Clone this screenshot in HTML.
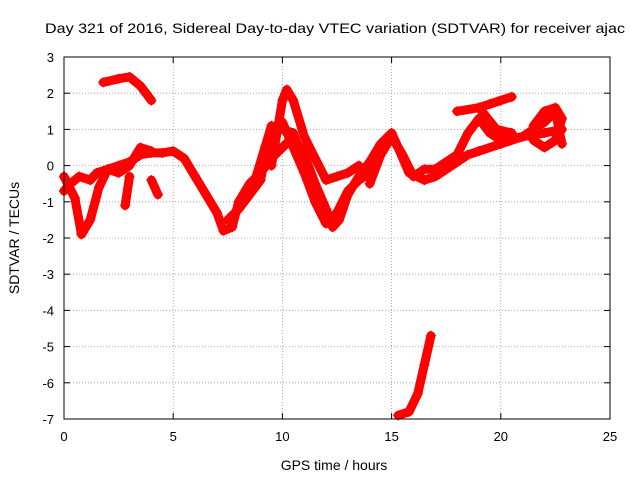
<!DOCTYPE html>
<html><head><meta charset="utf-8"><style>
body{margin:0;background:#fff;}
svg{display:block;font-family:"Liberation Sans",sans-serif;}
</style></head><body>
<svg id="chart" width="640" height="480">
<rect width="640" height="480" fill="#fff"/>
<text x="45" y="33" font-size="14" textLength="580" lengthAdjust="spacingAndGlyphs">Day 321 of 2016, Sidereal Day-to-day VTEC variation (SDTVAR) for receiver ajac</text>
<text x="334" y="470" font-size="14" text-anchor="middle">GPS time / hours</text>
<text transform="translate(19,238) rotate(-90)" font-size="14" text-anchor="middle">SDTVAR / TECUs</text>
<g id="grid"></g><g id="ticks"></g><g id="marks"></g>
<rect x="64" y="57" width="546" height="362" fill="none" stroke="#000"/>
</svg>
<script>
const xTicks=[0,5,10,15,20,25];
const yTicks=[3,2,1,0,-1,-2,-3,-4,-5,-6,-7];
const trackA=[[0,-0.7],[0.3,-0.5],[0.7,-0.3],[1.2,-0.4],[1.5,-0.2],[2,-0.1],[2.5,0],[3,0.1],[3.5,0.3],[4,0.35],[4.5,0.35],[5,0.4],[5.5,0.2],[6,-0.3],[6.5,-0.8],[7,-1.3],[7.3,-1.8],[7.7,-1.7],[8,-1.0],[8.5,-0.5],[9,-0.2],[9.5,0.2],[10,0.5],[10.5,0.8],[11,0.3],[11.5,-0.5],[12,-1.2],[12.3,-1.7],[12.6,-1.5],[13,-0.8],[13.5,-0.3],[14,0.1],[14.5,0.6],[15,0.9],[15.3,0.5],[15.8,-0.2],[16.5,-0.4],[17,-0.3],[17.5,-0.1],[18,0.1],[18.5,0.3],[19,0.4],[20,0.6],[21,0.8],[22,0.9],[22.8,1.0]];
const trackB=[[0,-0.3],[0.5,-0.9],[0.8,-1.9],[1.2,-1.5],[1.6,-0.6],[2,-0.1],[2.5,-0.2],[3,0],[3.5,0.5],[4,0.4]];
const trackC=[[1.8,2.3],[2.5,2.4],[3,2.45],[3.5,2.2],[4,1.8]];
const trackD=[[15.3,-6.9],[15.8,-6.8],[16.2,-6.3],[16.5,-5.5],[16.8,-4.7]];
const trackE=[[9.5,0],[10,1.8],[10.2,2.1],[10.5,1.8],[11,0.8],[11.5,0.2],[12,-0.4],[12.5,-0.3],[13,-0.2],[13.5,0]];
const trackF=[[18,1.5],[19,1.6],[19.5,1.7],[20,1.8],[20.5,1.9]];
const trackG=[[14,-0.5],[14.5,0.3],[15,0.8],[15.5,0.3],[16,-0.3],[16.5,-0.1],[17,-0.1],[18,0.3],[18.5,0.9],[19,1.3],[19.5,0.9],[20,0.7],[21,0.8],[22,1.2],[22.5,1.5],[22.8,0.6]];
const trackH=[[7.5,-1.5],[8,-1.2],[8.5,-0.8],[9,-0.4],[9.3,0.5],[9.5,1.0],[10,1.2],[10.5,0.5],[11,-0.2],[11.5,-1.0],[12,-1.6]];
const trackI=[[2.8,-1.1],[3,-0.3]];
const trackJ=[[4,-0.4],[4.3,-0.8]];
const trackK=[[8.2,-1.0],[8.8,-0.3],[9.2,0.5],[9.5,1.1],[10,1.0],[10.5,0.9],[11,0],[11.5,-1.0],[12,-1.6],[12.5,-1.3],[13,-0.7],[13.5,-0.4],[14,-0.2]];
const trackL=[[19,1.6],[19.4,1.3],[19.8,1.0],[20.5,0.9]];
const trackM=[[21.5,1.1],[22,1.5],[22.5,1.6],[22.8,1.3],[22.5,0.7],[22,0.5],[21.5,0.7]];
const tracks=[trackA,trackB,trackC,trackD,trackE,trackF,trackG,trackH,trackI,trackJ,trackK,trackL,trackM];
const NS="http://www.w3.org/2000/svg";
const X=v=>64+v*546/25, Y=v=>57+(3-v)*362/10;
const grid=document.getElementById('grid'),ticks=document.getElementById('ticks'),marks=document.getElementById('marks');
function mk(t,a,p){const e=document.createElementNS(NS,t);for(const k in a)e.setAttribute(k,a[k]);p.appendChild(e);return e;}
xTicks.forEach(v=>{
 if(v>0&&v<25){const g=mk('line',{x1:X(v),x2:X(v),y1:57,y2:419,stroke:'#999','stroke-dasharray':'1,2','stroke-width':0.8},grid);
 
 }
 const t=mk('text',{x:X(v),y:441,'font-size':13,'text-anchor':'middle'},ticks);t.textContent=v;
 
 
 mk('line',{x1:X(v),x2:X(v),y1:419,y2:413,stroke:'#000'},ticks);
 mk('line',{x1:X(v),x2:X(v),y1:57,y2:63,stroke:'#000'},ticks);
});
yTicks.forEach(v=>{
 if(v<3&&v>-7){const g=mk('line',{x1:64,x2:610,y1:Y(v),y2:Y(v),stroke:'#999','stroke-dasharray':'1,2','stroke-width':0.8},grid);
 
 }
 const t=mk('text',{x:54,y:Y(v)+5,'font-size':13,'text-anchor':'end'},ticks);t.textContent=v;
 
 
 mk('line',{x1:64,x2:70,y1:Y(v),y2:Y(v),stroke:'#000'},ticks);
 mk('line',{x1:610,x2:604,y1:Y(v),y2:Y(v),stroke:'#000'},ticks);
});
tracks.forEach((tr,i)=>{
 const pl=mk('polyline',{points:tr.map(p=>X(p[0])+','+Y(p[1])).join(' '),fill:'none',stroke:'#f00','stroke-width':9,'stroke-linejoin':'round','stroke-linecap':'round'},marks);
 
 
 tr.forEach(p=>{
  const m=mk('path',{d:`M${X(p[0])-5},${Y(p[1])}h10M${X(p[0])},${Y(p[1])-5}v10`,stroke:'#f00','stroke-width':1.5},marks);
  
  
 });
});
</script>
</body></html>
